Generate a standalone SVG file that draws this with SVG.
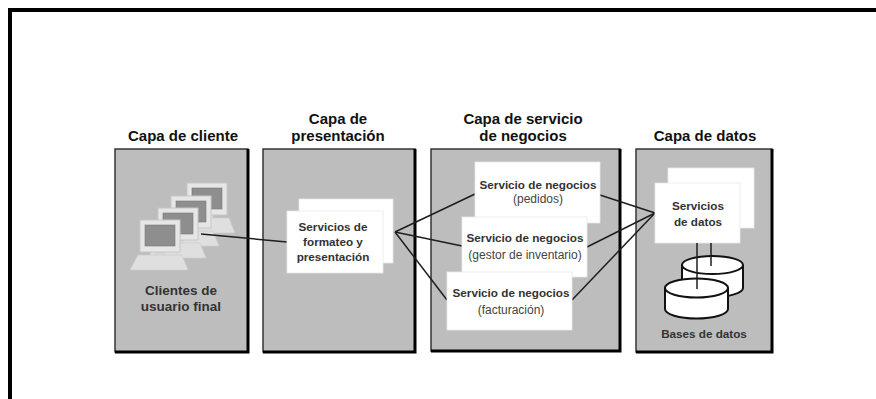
<svg xmlns="http://www.w3.org/2000/svg" width="876" height="399" viewBox="0 0 876 399">
<style>
.panel{fill:#bdbdbd;stroke:#2a2a2a;stroke-width:1.4}
.shadow{fill:none;stroke:#000;stroke-width:3}
.title{font-family:"Liberation Sans",Arial,sans-serif;font-weight:bold;font-size:15px;fill:#111;text-anchor:middle}
.lbl{font-family:"Liberation Sans",Arial,sans-serif;font-weight:bold;font-size:11.7px;fill:#333;text-anchor:middle}
.sub{font-family:"Liberation Sans",Arial,sans-serif;font-size:12px;fill:#444;text-anchor:middle}
.big{font-family:"Liberation Sans",Arial,sans-serif;font-weight:bold;font-size:13.5px;fill:#333;text-anchor:middle}
.box{fill:#fff;stroke:#e8e8e8;stroke-width:0.8}
.conn{fill:none;stroke:#1e1e1e;stroke-width:1.5}
.cyl{fill:#fff;stroke:#111;stroke-width:2}
</style>
<defs>
<g id="pc">
<polygon points="-2,35 42,35 48,50 -10,50" fill="#dfdfdf" stroke="#cdcdcd" stroke-width="0.8"/>
<rect x="14" y="32" width="12" height="4" fill="#d6d6d6"/>
<rect x="0" y="0" width="40" height="32" fill="#e6e6e6" stroke="#c8c8c8" stroke-width="1"/>
<rect x="5" y="5" width="30" height="21" fill="#8e8e8e" stroke="#7a7a7a" stroke-width="0.6"/>
</g>
</defs>
<rect x="0" y="0" width="876" height="399" fill="#fff"/>
<rect x="10" y="10" width="900" height="420" fill="none" stroke="#000" stroke-width="4"/>

<g id="panel-cliente">
<rect class="panel" x="115" y="149" width="133" height="203"/>
<polyline class="shadow" points="248,149 248,352 115,352"/>
<text class="title" x="183" y="141">Capa de cliente</text>
</g>
<g id="panel-presentacion">
<rect class="panel" x="263" y="149" width="152" height="203"/>
<polyline class="shadow" points="415,149 415,352 263,352"/>
<text class="title" x="338" y="124">Capa de</text>
<text class="title" x="338" y="141">presentación</text>
</g>
<g id="panel-negocios">
<rect class="panel" x="431" y="149" width="189" height="202"/>
<polyline class="shadow" points="620,149 620,351 431,351"/>
<text class="title" x="523" y="124">Capa de servicio</text>
<text class="title" x="523" y="141">de negocios</text>
</g>
<g id="panel-datos">
<rect class="panel" x="636" y="149" width="136" height="203"/>
<polyline class="shadow" points="772,149 772,352 636,352"/>
<text class="title" x="705" y="141">Capa de datos</text>
</g>

<g id="clientes">
<use href="#pc" x="187" y="183"/>
<use href="#pc" x="171" y="196"/>
<use href="#pc" x="158" y="208"/>
<use href="#pc" x="140" y="220"/>
<text class="big" x="181" y="295">Clientes de</text>
<text class="big" x="181" y="311">usuario final</text>
</g>

<g id="connectors">
<line class="conn" x1="201" y1="234" x2="287" y2="242"/>
<line class="conn" x1="395" y1="232" x2="475" y2="194"/>
<line class="conn" x1="395" y1="232" x2="462" y2="246"/>
<line class="conn" x1="395" y1="232" x2="447" y2="300"/>
<line class="conn" x1="600" y1="195" x2="655" y2="213"/>
<line class="conn" x1="587" y1="247" x2="655" y2="213"/>
<line class="conn" x1="572" y1="300" x2="655" y2="213"/>
</g>

<g id="presentacion">
<rect class="box" x="299" y="199" width="94" height="64"/>
<rect class="box" x="287" y="211" width="96" height="62"/>
<text class="lbl" x="333" y="231">Servicios de</text>
<text class="lbl" x="333" y="246">formateo y</text>
<text class="lbl" x="333" y="261">presentación</text>
</g>

<g id="negocio-pedidos">
<rect class="box" x="475" y="162" width="125" height="61"/>
<text class="lbl" x="538" y="189">Servicio de negocios</text>
<text class="sub" x="538" y="203">(pedidos)</text>
</g>
<g id="negocio-inventario">
<rect class="box" x="462" y="217" width="125" height="60"/>
<text class="lbl" x="525" y="242">Servicio de negocios</text>
<text class="sub" x="525" y="259">(gestor de inventario)</text>
</g>
<g id="negocio-facturacion">
<rect class="box" x="447" y="272" width="125" height="58"/>
<text class="lbl" x="511" y="297">Servicio de negocios</text>
<text class="sub" x="511" y="314">(facturación)</text>
</g>

<g id="servicios-datos">
<rect class="box" x="668" y="168" width="86" height="60"/>
<rect class="box" x="655" y="183" width="85" height="60"/>
<text class="lbl" x="698" y="210">Servicios</text>
<text class="lbl" x="698" y="226">de datos</text>
</g>

<g id="bases-datos">
<line class="conn" x1="711" y1="243" x2="711" y2="266"/>
<path class="cyl" d="M682,265 L682,288 A30.5,9 0 0 0 743,288 L743,265 A30.5,9 0 0 0 682,265 A30.5,9 0 0 0 743,265"/>
<line class="conn" x1="711" y1="256" x2="711" y2="266"/>
<line class="conn" x1="697" y1="243" x2="697" y2="289"/>
<path class="cyl" d="M665,288 L665,309 A31.5,9.5 0 0 0 728,309 L728,288 A31.5,9.5 0 0 0 665,288 A31.5,9.5 0 0 0 728,288"/>
<line class="conn" x1="697" y1="279" x2="697" y2="289"/>
<text class="lbl" x="704" y="338">Bases de datos</text>
</g>
</svg>
